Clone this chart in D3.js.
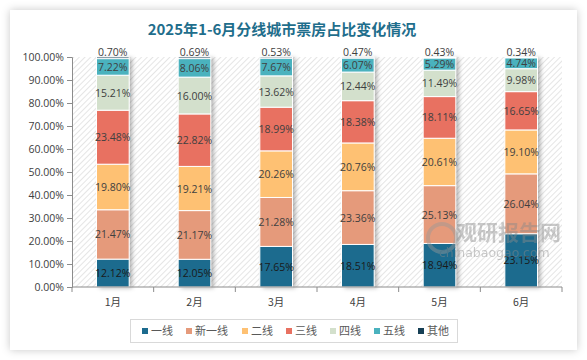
<!DOCTYPE html>
<html><head><meta charset="utf-8">
<script src="https://cdn.jsdelivr.net/npm/d3@7"></script>
<style>html,body{margin:0;padding:0;background:#fff;}svg{display:block;}</style>
</head><body>
<svg id="c" width="587" height="360"></svg>
<script>
const months = ["1月","2月","3月","4月","5月","6月"];
const seriesNames = ["一线","新一线","二线","三线","四线","五线","其他"];
const tier1    = [12.12, 12.05, 17.65, 18.51, 18.94, 23.15];
const newTier1 = [21.47, 21.17, 21.28, 23.36, 25.13, 26.04];
const tier2    = [19.80, 19.21, 20.26, 20.76, 20.61, 19.10];
const tier3    = [23.48, 22.82, 18.99, 18.38, 18.11, 16.65];
const tier4    = [15.21, 16.00, 13.62, 12.44, 11.49, 9.98];
const tier5    = [7.22, 8.06, 7.67, 6.07, 5.29, 4.74];
const others   = [0.70, 0.69, 0.53, 0.47, 0.43, 0.34];
const yTicks = [0,10,20,30,40,50,60,70,80,90,100];
const colors = ["#1c6b8e","#e59a7b","#fec173","#e87161","#d3e0cc","#4ab2be","#163f55"];

const seriesVals = [tier1,newTier1,tier2,tier3,tier4,tier5,others];
const table = months.map((m,i)=>{const o={month:m}; seriesNames.forEach((s,j)=>o[s]=seriesVals[j][i]); return o;});
const stacked = d3.stack().keys(seriesNames)(table);

const svg = d3.select("#c");
const defs = svg.append("defs");
const cs = defs.append("filter").attr("id","cardShadow").attr("x","-10%").attr("y","-10%").attr("width","120%").attr("height","120%");
cs.append("feDropShadow").attr("dx",0).attr("dy",0).attr("stdDeviation",4).attr("flood-color","#000").attr("flood-opacity",0.22);
const bs = defs.append("filter").attr("id","barShadow").attr("x","-30%").attr("y","-5%").attr("width","160%").attr("height","110%");
bs.append("feDropShadow").attr("dx",3).attr("dy",1).attr("stdDeviation",2).attr("flood-color","#000").attr("flood-opacity",0.3);
const pat = defs.append("pattern").attr("id","hatch").attr("patternUnits","userSpaceOnUse").attr("width",4).attr("height",4).attr("patternTransform","rotate(45)");
pat.append("rect").attr("width",4).attr("height",4).attr("fill","#fff");
pat.append("line").attr("x1",0).attr("y1",0).attr("x2",0).attr("y2",4).attr("stroke","#d4d4d4").attr("stroke-width",1.2);

// card
svg.append("rect").attr("x",10).attr("y",10).attr("width",567).attr("height",340).attr("fill","#fff").attr("filter","url(#cardShadow)");

const L=72, R=562, T=57, B=287;
const x = d3.scaleBand().domain(months).range([L,R]).paddingInner(0.6).paddingOuter(0.3);
const xb = d3.scaleBand().domain(months).range([L,R]);
const y = d3.scaleLinear().domain([0,100]).range([B,T]);

svg.append("rect").attr("x",L).attr("y",T).attr("width",R-L).attr("height",B-T).attr("fill","url(#hatch)");

// title
svg.append("text").attr("x",282).attr("y",35).attr("text-anchor","middle")
  .attr("font-family","'Noto Sans CJK SC'").attr("font-weight","bold").attr("font-size",15)
  .attr("fill","#1f6e8c").text("2025年1-6月分线城市票房占比变化情况");

// bars
const barG = svg.append("g");
months.forEach((m,i)=>{
  barG.append("rect").attr("x",x(m)).attr("y",y(100)).attr("width",x.bandwidth()).attr("height",y(0)-y(100))
    .attr("fill","#fff").attr("filter","url(#barShadow)");
});
stacked.forEach((s,j)=>{
  barG.selectAll(null).data(s).enter().append("rect")
    .attr("x",d=>x(d.data.month)).attr("y",d=>y(d[1])).attr("width",x.bandwidth())
    .attr("height",d=>y(d[0])-y(d[1])).attr("fill",colors[j])
    .attr("stroke","#fff").attr("stroke-width",1);
});

// labels
const lblG = svg.append("g").attr("font-family","'Open Sans','DejaVu Sans',sans-serif").attr("font-size",10.5).attr("text-anchor","middle");
stacked.forEach((s,j)=>{
  lblG.selectAll(null).data(s).enter().append("text")
    .attr("x",d=>x(d.data.month)+x.bandwidth()/2)
    .attr("y",d=> j===6 ? y(d[1])-1 : (y(d[0])+y(d[1]))/2+4)
    .attr("fill", j===0 ? "#1a1a1a" : "#404040")
    .text(d=>d.data[seriesNames[j]].toFixed(2)+"%");
});

// axes
const yAxis = d3.axisLeft(y).tickValues(yTicks).tickSize(5).tickFormat(d=>d.toFixed(2)+"%");
const yg = svg.append("g").attr("transform",`translate(${L},0)`).call(yAxis);
yg.select(".domain").attr("stroke","#8c8c8c");
yg.selectAll(".tick line").attr("stroke","#8c8c8c");
yg.selectAll("text").attr("font-family","'Open Sans','DejaVu Sans',sans-serif").attr("font-size",10.5).attr("fill","#404040").attr("x",-8);

const xg = svg.append("g").attr("transform",`translate(0,${B})`);
xg.append("line").attr("x1",L).attr("x2",R).attr("stroke","#8c8c8c");
const bounds = months.map(m=>xb(m)).concat([R]);
xg.selectAll(null).data(bounds).enter().append("line").attr("x1",d=>d).attr("x2",d=>d).attr("y1",0).attr("y2",5).attr("stroke","#8c8c8c");
xg.selectAll(null).data(months).enter().append("text")
  .attr("x",m=>xb(m)+xb.bandwidth()/2).attr("y",19).attr("text-anchor","middle")
  .attr("font-family","'Noto Sans CJK SC'").attr("font-size",10.5).attr("fill","#404040").text(d=>d);

// watermark
const wm = svg.append("g").attr("opacity",0.45);
wm.append("circle").attr("cx",442).attr("cy",238).attr("r",14).attr("fill","none").attr("stroke","#999").attr("stroke-width",4);
wm.append("text").attr("x",456).attr("y",240).attr("font-family","'Noto Sans CJK SC'").attr("font-weight","bold").attr("font-size",21).attr("fill","#8a8a8a").text("观研报告网");
wm.append("text").attr("x",439).attr("y",257).attr("font-family","'DejaVu Sans',sans-serif").attr("font-size",12.5).attr("fill","#8a8a8a").text("chinabaogao.com");

// legend
svg.append("rect").attr("x",130.5).attr("y",319.5).attr("width",327).attr("height",23).attr("fill","#fff").attr("stroke","#d9d9d9");
const legendX = [142, 186, 242, 286, 330, 374, 418];
const lg = svg.append("g");
seriesNames.forEach((s,j)=>{
  const g = lg.append("g").attr("transform",`translate(${legendX[j]},331)`);
  g.append("rect").attr("x",0).attr("y",-3).attr("width",6).attr("height",6).attr("fill",colors[j]);
  g.append("text").attr("x",9).attr("y",4).attr("font-family","'Noto Sans CJK SC'").attr("font-size",11).attr("fill","#595959").text(s);
});
</script>
</body></html>
